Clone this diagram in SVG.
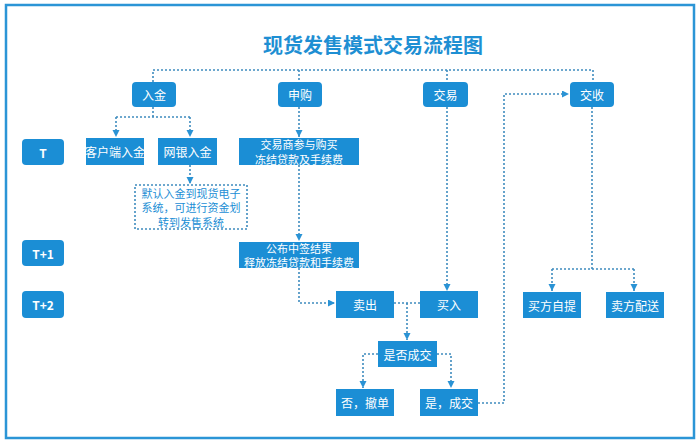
<svg xmlns="http://www.w3.org/2000/svg" width="700" height="448" viewBox="0 0 700 448">
<defs>
<marker id="arr" markerUnits="userSpaceOnUse" markerWidth="8" markerHeight="8" refX="7" refY="3.5" orient="auto">
<path d="M0,0 L7,3.5 L0,7 z" fill="#2a93d5"/>
</marker>
<style>
.box{fill:#1b8ed5}
.t{font-family:"Noto Sans CJK SC","Liberation Sans",sans-serif;font-size:12px;fill:#fff;text-anchor:middle;dominant-baseline:central}
.s{font-size:11px}
.tb{font-weight:bold}
.c{fill:none;stroke:#3f8cbf;stroke-width:1.6;stroke-dasharray:2 2}
.ca{marker-end:url(#arr)}
.bt{fill:#1b8ed5;font-size:11px}
</style>
</defs>
<rect x="0" y="0" width="700" height="448" fill="#fff"/>
<rect x="6" y="5" width="688" height="433" fill="none" stroke="#2b95d6" stroke-width="2.5"/>
<text x="373" y="44" font-family="'Noto Sans CJK SC','Liberation Sans',sans-serif" font-size="20" font-weight="bold" fill="#1e8fd3" text-anchor="middle" dominant-baseline="central">现货发售模式交易流程图</text>

<g id="connectors">
<path class="c" d="M153,82 V70 H593 V82"/>
<path class="c" d="M299,70 V82"/>
<path class="c" d="M447,70 V82"/>
<path class="c" d="M153,107 V117"/>
<path class="c" d="M116,117 H190"/>
<path class="c ca" d="M116,117 V137"/>
<path class="c ca" d="M190,117 V137"/>
<path class="c ca" d="M190,165 V184"/>
<path class="c ca" d="M299,107 V137"/>
<path class="c ca" d="M299,165 V241"/>
<path class="c ca" d="M299,268 V303 H335"/>
<path class="c ca" d="M447,107 V291"/>
<path class="c" d="M394,303 H420"/>
<path class="c ca" d="M407,303 V340"/>
<path class="c ca" d="M378,354 H363 V388"/>
<path class="c ca" d="M437,354 H451 V388"/>
<path class="c ca" d="M478,403 H504 V94 H569"/>
<path class="c" d="M592,107 V269"/>
<path class="c" d="M552,269 H634"/>
<path class="c ca" d="M552,269 V291"/>
<path class="c ca" d="M634,269 V291"/>
</g>

<g id="rujin"><rect class="box" x="132" y="82" width="44" height="25" rx="4"/><text class="t" x="154" y="94.5">入金</text></g>
<g id="shengou"><rect class="box" x="278" y="82" width="44" height="25" rx="4"/><text class="t" x="300" y="94.5">申购</text></g>
<g id="jiaoyi"><rect class="box" x="423" y="82" width="45" height="25" rx="4"/><text class="t" x="445.5" y="94.5">交易</text></g>
<g id="jiaoshou"><rect class="box" x="570" y="82" width="44" height="25" rx="4"/><text class="t" x="592" y="94.5">交收</text></g>

<g id="T"><rect class="box" x="22" y="139" width="42" height="26" rx="4"/><text class="t tb" x="43" y="152">T</text></g>
<g id="T1"><rect class="box" x="22" y="240" width="42" height="26" rx="4"/><text class="t tb" x="43" y="253">T+1</text></g>
<g id="T2"><rect class="box" x="22" y="291" width="42" height="27" rx="4"/><text class="t tb" x="43" y="304.5">T+2</text></g>

<g id="kehuduan"><rect class="box" x="86" y="138" width="58" height="27"/><text class="t" x="115" y="151.5" font-size="11.3">客户端入金</text></g>
<g id="wangyin"><rect class="box" x="158" y="138" width="59" height="27"/><text class="t" x="187.5" y="151.5">网银入金</text></g>
<g id="jiaoyishang"><rect class="box" x="239" y="138" width="120" height="27"/><text class="t s" x="299" y="144.25">交易商参与购买</text><text class="t s" x="299" y="158.75">冻结贷款及手续费</text></g>
<g id="moren"><rect x="135" y="185" width="112" height="44" fill="#fff" stroke="#3f8cbf" stroke-width="1.6" stroke-dasharray="2 2"/>
<text class="t bt" x="191" y="192.5" style="fill:#1b8ed5">默认入金到现货电子</text>
<text class="t bt" x="191" y="207" style="fill:#1b8ed5">系统，可进行资金划</text>
<text class="t bt" x="191" y="221.5" style="fill:#1b8ed5">转到发售系统</text></g>
<g id="gongbu"><rect class="box" x="239" y="242" width="120" height="26"/><text class="t s" x="299" y="247.75">公布中签结果</text><text class="t s" x="299" y="262.25">释放冻结贷款和手续费</text></g>

<g id="maichu"><rect class="box" x="336" y="291" width="58" height="27"/><text class="t" x="365" y="304.5">卖出</text></g>
<g id="mairu"><rect class="box" x="420" y="291" width="58" height="27"/><text class="t" x="449" y="304.5">买入</text></g>
<g id="shifou"><rect class="box" x="378" y="341" width="59" height="26"/><text class="t" x="407.5" y="354">是否成交</text></g>
<g id="fou"><rect class="box" x="336" y="389" width="58" height="27"/><text class="t" x="365" y="402.5">否，撤单</text></g>
<g id="shi"><rect class="box" x="420" y="389" width="58" height="27"/><text class="t" x="449" y="402.5">是，成交</text></g>
<g id="maifangziti"><rect class="box" x="523" y="292" width="58" height="26"/><text class="t" x="552" y="305">买方自提</text></g>
<g id="maifangpeisong"><rect class="box" x="606" y="292" width="58" height="26"/><text class="t" x="635" y="305">卖方配送</text></g>
</svg>
